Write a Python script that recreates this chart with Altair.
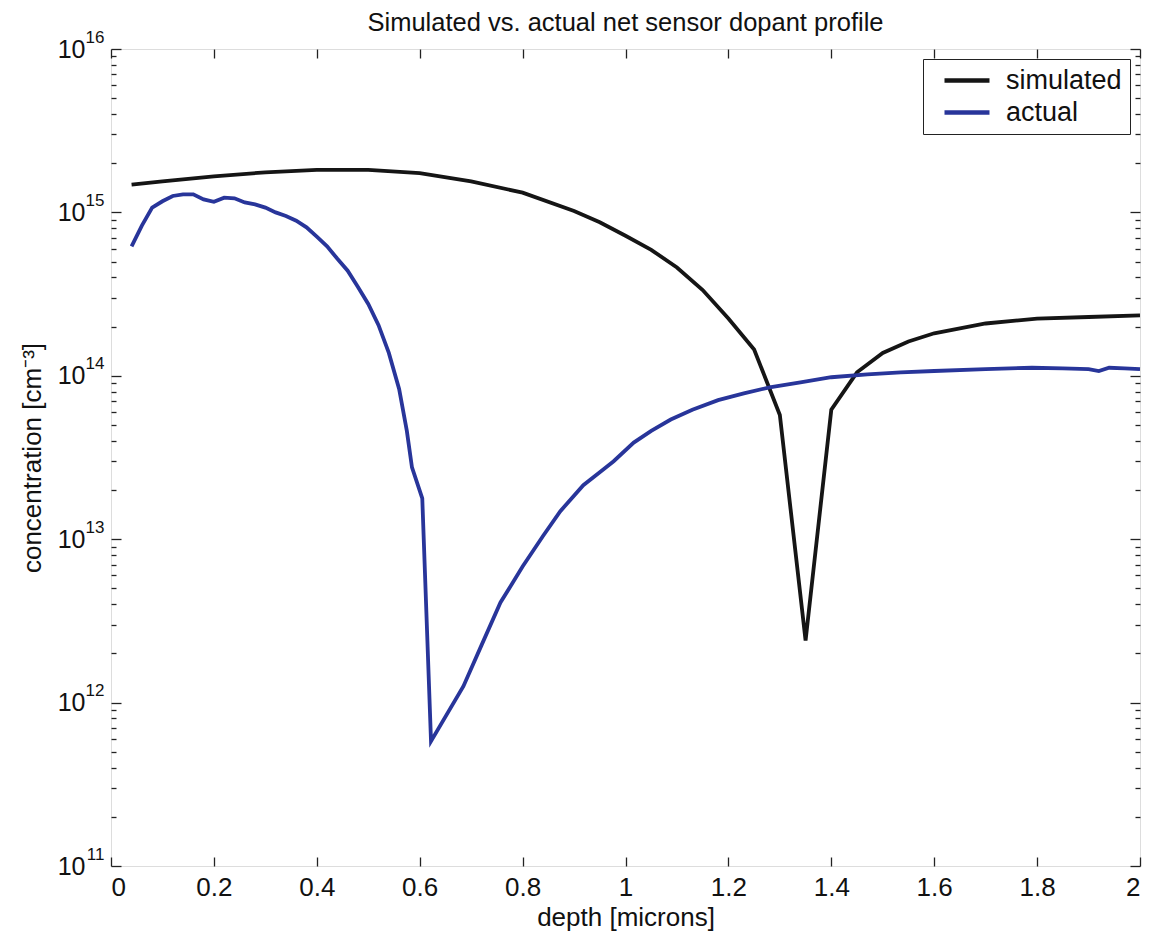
import altair as alt
import pandas as pd

# ---- data ----
sim_depth = [0.04, 0.1, 0.2, 0.3, 0.4, 0.5, 0.6, 0.7, 0.8, 0.9, 0.95, 1.0, 1.05, 1.1,
             1.15, 1.2, 1.25, 1.3, 1.35, 1.4, 1.45, 1.5, 1.55, 1.6, 1.7, 1.8, 1.9, 2.0]
sim_conc = [1.48e15, 1.55e15, 1.66e15, 1.76e15, 1.82e15, 1.82e15, 1.74e15, 1.55e15, 1.32e15,
            1.02e15, 8.7e14, 7.2e14, 5.9e14, 4.6e14, 3.35e14, 2.24e14, 1.45e14, 5.75e13,
            2.4e12, 6.2e13, 1.05e14, 1.38e14, 1.62e14, 1.82e14, 2.09e14, 2.24e14, 2.29e14, 2.34e14]

act_depth = [0.04, 0.06, 0.08, 0.10, 0.12, 0.14, 0.16, 0.18, 0.20, 0.22, 0.24, 0.26, 0.28,
             0.30, 0.32, 0.34, 0.36, 0.38, 0.40, 0.42, 0.44, 0.46, 0.48, 0.50, 0.52, 0.54,
             0.56, 0.575, 0.585, 0.605, 0.622, 0.685, 0.72, 0.757, 0.80, 0.84, 0.873, 0.918,
             0.95, 0.977, 1.016, 1.05, 1.088, 1.13, 1.18, 1.23, 1.28, 1.34, 1.40, 1.47, 1.535,
             1.6, 1.7, 1.79, 1.85, 1.90, 1.92, 1.94, 1.97, 2.0]
act_conc = [6.2e14, 8.3e14, 1.07e15, 1.17e15, 1.26e15, 1.29e15, 1.29e15, 1.20e15, 1.16e15,
            1.23e15, 1.22e15, 1.15e15, 1.12e15, 1.07e15, 1.0e15, 9.5e14, 8.9e14, 8.1e14,
            7.1e14, 6.2e14, 5.2e14, 4.4e14, 3.5e14, 2.75e14, 2.04e14, 1.38e14, 8.3e13, 4.6e13,
            2.75e13, 1.78e13, 5.8e11, 1.26e12, 2.24e12, 4.1e12, 6.8e12, 1.05e13, 1.48e13,
            2.14e13, 2.57e13, 3.0e13, 3.9e13, 4.6e13, 5.4e13, 6.2e13, 7.1e13, 7.8e13, 8.5e13,
            9.1e13, 9.8e13, 1.02e14, 1.05e14, 1.07e14, 1.10e14, 1.12e14, 1.11e14, 1.10e14,
            1.07e14, 1.12e14, 1.11e14, 1.10e14]

series_names = ["simulated", "actual"]
series_colors = ["#151515", "#28359a"]

x_ticks = [0, 0.2, 0.4, 0.6, 0.8, 1.0, 1.2, 1.4, 1.6, 1.8, 2.0]
y_major = [1e11, 1e12, 1e13, 1e14, 1e15, 1e16]
y_minor = [k * 10.0 ** e for e in range(11, 16) for k in range(2, 10)]
y_exponents = ["11", "12", "13", "14", "15", "16"]

rows = []
for i, (d, c) in enumerate(zip(sim_depth, sim_conc)):
    rows.append({"depth": d, "conc": c, "series": "simulated", "i": i})
for i, (d, c) in enumerate(zip(act_depth, act_conc)):
    rows.append({"depth": d, "conc": c, "series": "actual", "i": i})
df = pd.DataFrame(rows)

FONT = "Liberation Sans"
INK = "#222222"
TXT = "#111111"

xs = alt.Scale(domain=[0, 2], nice=False, zero=False)
ys = alt.Scale(type="log", domain=[1e11, 1e16], nice=False)

exp_expr = "[" + ",".join("'%s'" % s for s in y_exponents) + "][round(log(datum.value)/LN10)-11]"

lines = alt.Chart(df).mark_line(strokeWidth=3.8).encode(
    x=alt.X("depth:Q", scale=xs,
            axis=alt.Axis(values=x_ticks, ticks=False, domain=False, grid=False,
                          format="~g", labelPadding=8, labelFontSize=26,
                          labelFont=FONT, labelColor=TXT,
                          title="depth [microns]", titleFontSize=26,
                          titleFontWeight="normal", titleFont=FONT, titleColor=TXT,
                          titlePadding=4)),
    y=alt.Y("conc:Q", scale=ys,
            axis=alt.Axis(values=y_major, ticks=False, domain=False, grid=False,
                          labelExpr="'10'", labelPadding=26, labelFontSize=25,
                          labelFont=FONT, labelColor=TXT, labelBaseline="middle",
                          title="concentration [cm⁻³]", titleFontSize=26,
                          titleFontWeight="normal", titleFont=FONT, titleColor=TXT,
                          titlePadding=12)),
    color=alt.Color("series:N",
                    scale=alt.Scale(domain=series_names, range=series_colors),
                    sort=series_names,
                    legend=alt.Legend(title=None, orient="top-right", offset=10,
                                      strokeColor=INK, fillColor="white", padding=8,
                                      labelFontSize=27, labelFont=FONT, labelColor=TXT,
                                      symbolType="M0,0H4", symbolSize=506,
                                      symbolStrokeWidth=4.5, labelOffset=48,
                                      rowPadding=4)),
    order=alt.Order("i:Q"),
)


def tick_axis(orient, values, size):
    return alt.Axis(orient=orient, values=values, labels=False,
                    domain=False, grid=False, ticks=True,
                    tickSize=alt.ExprRef(expr=str(-size)),
                    tickColor=INK, tickWidth=1.3, title=None)


def tick_layer(xaxis, yaxis):
    return alt.Chart(df).mark_point(opacity=0).encode(
        x=alt.X("depth:Q", scale=xs, axis=xaxis),
        y=alt.Y("conc:Q", scale=ys, axis=yaxis),
    )


exp_axis = alt.Axis(orient="left", values=y_major, ticks=False, domain=False, grid=False,
                    labelExpr=exp_expr, labelPadding=7, labelFontSize=17,
                    labelFont=FONT, labelColor=TXT, labelAlign="right",
                    labelBaseline="middle", labelOffset=-12, title=None)

layers = [
    lines,
    tick_layer(tick_axis("bottom", x_ticks, 9), tick_axis("left", y_major, 10)),
    tick_layer(tick_axis("top", x_ticks, 9), tick_axis("left", y_minor, 5)),
    tick_layer(None, tick_axis("right", y_major, 10)),
    tick_layer(None, tick_axis("right", y_minor, 5)),
    tick_layer(None, exp_axis),
]

chart = alt.layer(*layers).resolve_scale(x="independent", y="independent").properties(
    width=1029,
    height=817,
    title=alt.TitleParams("Simulated vs. actual net sensor dopant profile",
                          fontSize=25.5, font=FONT, fontWeight="normal", color=TXT,
                          anchor="middle", frame="group", offset=14, dy=22),
    autosize=alt.AutoSizeParams(type="none"),
    padding={"left": 111, "top": 49, "right": 14, "bottom": 75},
).configure_view(stroke=INK, strokeWidth=1.6).configure(background="white")

chart.save("out.html", embed_options={"renderer": "svg", "actions": False})
